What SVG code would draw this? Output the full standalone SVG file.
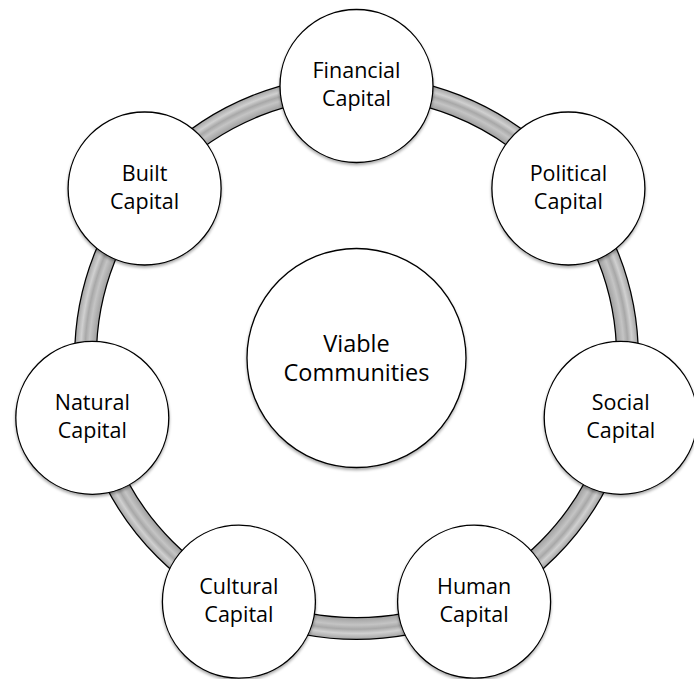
<svg xmlns="http://www.w3.org/2000/svg" width="694" height="679" viewBox="0 0 694 679">
<defs>
<radialGradient id="tube" gradientUnits="userSpaceOnUse" cx="356.5" cy="357.5" r="283">
<stop offset="0" stop-color="#a0a0a0"/>
<stop offset="0.92" stop-color="#a0a0a0"/>
<stop offset="0.945" stop-color="#c4c4c4"/>
<stop offset="0.96" stop-color="#a8a8a8"/>
<stop offset="0.975" stop-color="#d0d0d0"/>
<stop offset="1" stop-color="#9a9a9a"/>
</radialGradient>
<filter id="sh" x="-10%" y="-10%" width="120%" height="125%">
<feGaussianBlur in="SourceAlpha" stdDeviation="1.5"/>
<feOffset dy="2" result="b"/>
<feComponentTransfer><feFuncA type="linear" slope="0.35"/></feComponentTransfer>
<feMerge><feMergeNode/><feMergeNode in="SourceGraphic"/></feMerge>
</filter>
</defs>
<style>
.n{fill:#fff;stroke:#000;stroke-width:1.3;filter:url(#sh)}
.t{font-family:"Open Sans","Liberation Sans",sans-serif;font-size:21.5px;fill:#000;text-anchor:middle}
.c{font-size:23.5px}
</style>
<g id="connectors">
<circle cx="356.5" cy="357.5" r="271" fill="none" stroke="#000" stroke-width="23"/>
<circle cx="356.5" cy="357.5" r="271" fill="none" stroke="url(#tube)" stroke-width="20.5"/>
</g>
<g id="center">
<circle class="n" cx="356.5" cy="358" r="109.5"/>
<text class="t c" x="356.5" y="352">Viable</text>
<text class="t c" x="356.5" y="381">Communities</text>
</g>
<g id="financial">
<circle class="n" cx="356.5" cy="86" r="76.5"/>
<text class="t" x="356.5" y="78">Financial</text>
<text class="t" x="356.5" y="106">Capital</text>
</g>
<g id="political">
<circle class="n" cx="568.4" cy="188.5" r="76.5"/>
<text class="t" x="568.4" y="180.5">Political</text>
<text class="t" x="568.4" y="208.5">Capital</text>
</g>
<g id="social">
<circle class="n" cx="620.7" cy="417.8" r="76.5"/>
<text class="t" x="620.7" y="409.8">Social</text>
<text class="t" x="620.7" y="437.8">Capital</text>
</g>
<g id="human">
<circle class="n" cx="474.1" cy="601.7" r="76.5"/>
<text class="t" x="474.1" y="593.7">Human</text>
<text class="t" x="474.1" y="621.7">Capital</text>
</g>
<g id="cultural">
<circle class="n" cx="238.9" cy="601.7" r="76.5"/>
<text class="t" x="238.9" y="593.7">Cultural</text>
<text class="t" x="238.9" y="621.7">Capital</text>
</g>
<g id="natural">
<circle class="n" cx="92.3" cy="417.8" r="76.5"/>
<text class="t" x="92.3" y="409.8">Natural</text>
<text class="t" x="92.3" y="437.8">Capital</text>
</g>
<g id="built">
<circle class="n" cx="144.6" cy="188.5" r="76.5"/>
<text class="t" x="144.6" y="180.5">Built</text>
<text class="t" x="144.6" y="208.5">Capital</text>
</g>
</svg>
